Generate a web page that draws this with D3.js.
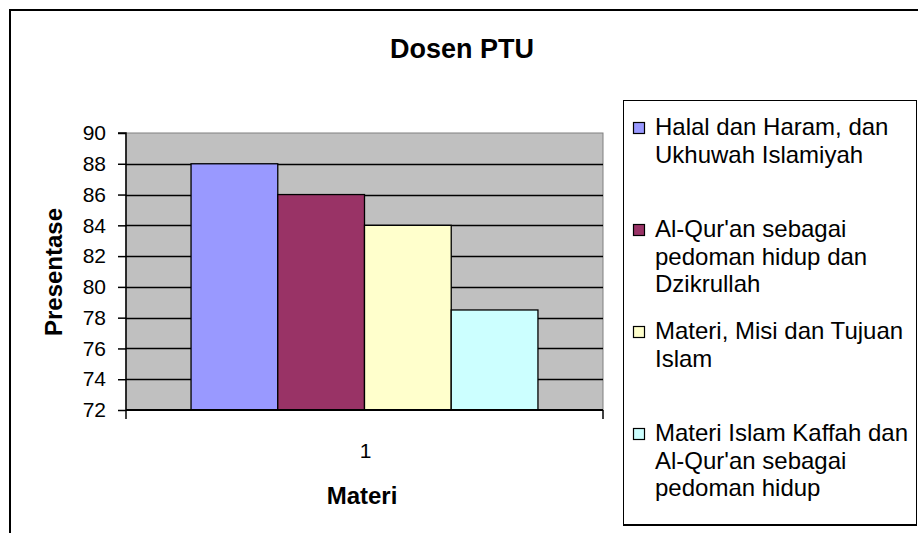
<!DOCTYPE html>
<html>
<head>
<meta charset="utf-8">
<script src="https://cdn.jsdelivr.net/npm/d3@7"></script>
<style>
  html, body { margin: 0; padding: 0; background: #fff; }
  svg { display: block; font-family: "Liberation Sans", Arial, sans-serif; }
</style>
</head>
<body>
<svg id="chart" width="918" height="533"></svg>
<script>
// ---- data ----
const title = "Dosen PTU";
const categories = ["1"];
const seriesNames = [
  ["Halal dan Haram, dan", "Ukhuwah Islamiyah"],
  ["Al-Qur'an sebagai", "pedoman hidup dan", "Dzikrullah"],
  ["Materi, Misi dan Tujuan", "Islam"],
  ["Materi Islam Kaffah dan", "Al-Qur'an sebagai", "pedoman hidup"]
];
const seriesValues = [88, 86, 84, 78.5];
const seriesColors = ["#9999FF", "#993366", "#FFFFCC", "#CCFFFF"];
const yTicks = [72, 74, 76, 78, 80, 82, 84, 86, 88, 90];
const yTitle = "Presentase";
const xTitle = "Materi";

// ---- layout ----
const svg = d3.select("#chart");
const plot = { left: 126, right: 603, top: 133, bottom: 410 };

// outer chart border (right/bottom fall outside the picture)
svg.append("rect")
  .attr("x", 10).attr("y", 10).attr("width", 940).attr("height", 560)
  .attr("fill", "#fff").attr("stroke", "#000").attr("stroke-width", 2);

// title
svg.append("text")
  .attr("x", 462).attr("y", 58)
  .attr("text-anchor", "middle")
  .attr("font-size", 27).attr("font-weight", "bold")
  .text(title);

const x = d3.scaleBand().domain(categories).range([plot.left, plot.right]);
const xs = d3.scaleBand().domain(d3.range(seriesValues.length))
  .range([x(categories[0]), x(categories[0]) + x.bandwidth()])
  .paddingInner(0).paddingOuter(0.75);
const y = d3.scaleLinear().domain([72, 90]).range([plot.bottom, plot.top]);

// plot background
svg.append("rect")
  .attr("x", plot.left).attr("y", plot.top)
  .attr("width", plot.right - plot.left).attr("height", plot.bottom - plot.top)
  .attr("fill", "#C0C0C0").attr("stroke", "#808080").attr("stroke-width", 1);

// gridlines
svg.append("g").selectAll("line").data(yTicks.filter(d => d > 72 && d < 90)).join("line")
  .attr("x1", plot.left).attr("x2", plot.right)
  .attr("y1", d => Math.round(y(d)) + 0.5).attr("y2", d => Math.round(y(d)) + 0.5)
  .attr("stroke", "#000").attr("stroke-width", 1.3);

// bars
svg.append("g").selectAll("rect").data(seriesValues).join("rect")
  .attr("x", (d, i) => xs(i))
  .attr("width", xs.bandwidth())
  .attr("y", d => y(d))
  .attr("height", d => y(72) - y(d))
  .attr("fill", (d, i) => seriesColors[i])
  .attr("stroke", "#000").attr("stroke-width", 1.3);

// y axis
const yAxis = d3.axisLeft(y).tickValues(yTicks).tickSize(8).tickPadding(12).tickFormat(d3.format("d"));
const gy = svg.append("g").attr("transform", `translate(${plot.left},0)`).call(yAxis);
gy.select(".domain").attr("stroke", "#000").attr("stroke-width", 1.5).attr("d", `M-8,${plot.top}H0V${plot.bottom}`);
gy.selectAll(".tick line").attr("stroke", "#000").attr("stroke-width", 1.5);
gy.selectAll(".tick text").attr("font-size", 21).attr("fill", "#000")
  .attr("font-family", "Liberation Sans, Arial, sans-serif");

// x axis
const gx = svg.append("g").attr("transform", `translate(0,${plot.bottom})`);
gx.append("line").attr("x1", plot.left).attr("x2", plot.right).attr("y1", 0).attr("y2", 0)
  .attr("stroke", "#000").attr("stroke-width", 2);
gx.selectAll("line.tk").data([x.range()[0], x.range()[1]]).join("line")
  .attr("class", "tk")
  .attr("x1", d => d).attr("x2", d => d).attr("y1", 0).attr("y2", 9)
  .attr("stroke", "#000").attr("stroke-width", 1.5);
gx.selectAll("text.cat").data(categories).join("text")
  .attr("class", "cat")
  .attr("x", d => x(d) + x.bandwidth() / 2 + 1).attr("y", 48)
  .attr("text-anchor", "middle").attr("font-size", 21)
  .text(d => d);

// axis titles
svg.append("text")
  .attr("x", 362).attr("y", 504)
  .attr("text-anchor", "middle").attr("font-size", 24).attr("font-weight", "bold")
  .text(xTitle);
svg.append("text")
  .attr("transform", "translate(62,272) rotate(-90)")
  .attr("text-anchor", "middle").attr("font-size", 24).attr("font-weight", "bold")
  .text(yTitle);

// legend
const lg = svg.append("g");
lg.append("rect").attr("x", 623.5).attr("y", 100.5).attr("width", 293).attr("height", 424)
  .attr("fill", "#fff").attr("stroke", "#000").attr("stroke-width", 1);
lg.append("line").attr("x1", 623).attr("x2", 917).attr("y1", 525).attr("y2", 525)
  .attr("stroke", "#000").attr("stroke-width", 2);
const entryStep = 102, firstBase = 135, lineH = 27.5;
seriesNames.forEach((lines, i) => {
  const base = firstBase + i * entryStep;
  lg.append("rect").attr("x", 633.5).attr("y", base - 12.5).attr("width", 11).attr("height", 11)
    .attr("fill", seriesColors[i]).attr("stroke", "#000").attr("stroke-width", 1.2);
  const t = lg.append("text").attr("x", 655).attr("y", base).attr("font-size", 24);
  lines.forEach((ln, j) => {
    t.append("tspan").attr("x", 655).attr("y", base + j * lineH).text(ln);
  });
});
</script>
</body>
</html>
